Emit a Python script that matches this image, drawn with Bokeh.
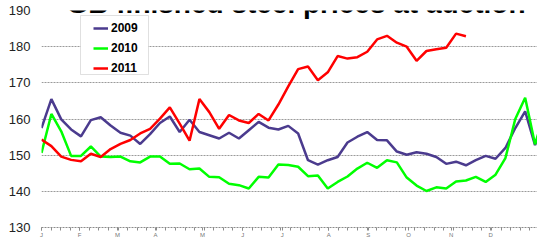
from bokeh.plotting import figure
from bokeh.models import Range1d, FixedTicker, Legend, LegendItem, Label, BoxAnnotation
from bokeh.embed import file_html
from bokeh.resources import INLINE

TITLE = "GB finished steel prices at auction"
SERIES_NAMES = ["2009", "2010", "2011"]
Y_TICKS = [130, 140, 150, 160, 170, 180, 190]
MONTHS = ["J", "F", "M", "A", "M", "J", "J", "A", "S", "O", "N", "D"]
MONTH_WEEK = [0, 3.85, 7.7, 11.55, 16.3, 20.4, 24.4, 29.1, 33.1, 37.2, 41.5, 45.5]

Y2009 = [157.5, 165.5, 159.9, 157.1, 155.2, 159.7, 160.5, 158.2, 156.2, 155.4,
         153.1, 155.8, 158.9, 160.7, 156.4, 159.8, 156.4, 155.5, 154.6, 156.2,
         154.6, 156.9, 159.2, 157.6, 157.1, 158.1, 156.0, 148.6, 147.4, 148.6,
         149.5, 153.5, 155.1, 156.4, 154.2, 154.1, 151.0, 150.1, 150.8, 150.4,
         149.5, 147.6, 148.2, 147.2, 148.6, 149.8, 149.0, 152.0, 157.5, 162.1,
         152.8, 160.0]
Y2010 = [150.6, 161.4, 156.6, 149.8, 149.8, 152.4, 149.6, 149.5, 149.6, 148.3,
         148.0, 149.6, 149.6, 147.6, 147.7, 146.1, 146.3, 144.0, 143.9, 142.1,
         141.7, 140.8, 144.0, 143.8, 147.4, 147.3, 146.8, 144.2, 144.4, 140.8,
         142.6, 144.1, 146.3, 147.9, 146.5, 148.6, 148.0, 143.8, 141.6, 140.1,
         141.1, 140.8, 142.7, 143.0, 144.0, 142.6, 144.6, 149.2, 160.0, 165.9,
         153.0, 162.0]
Y2011 = [154.3, 152.5, 149.6, 148.7, 148.3, 150.4, 149.5, 151.7, 153.1, 154.2,
         156.0, 157.3, 160.1, 163.2, 158.7, 154.0, 165.5, 161.9, 157.3, 161.1,
         159.6, 158.9, 161.4, 159.6, 164.0, 169.0, 173.8, 174.5, 170.7, 172.9,
         177.4, 176.7, 177.1, 178.6, 182.0, 183.0, 181.1, 180.0, 176.1, 178.8,
         179.3, 179.7, 183.6, 182.9]

WEEKS_09 = list(range(len(Y2009)))
WEEKS_10 = list(range(len(Y2010)))
WEEKS_11 = list(range(len(Y2011)))

PURPLE = "#4B3B8E"
GREEN = "#00FF00"
RED = "#FF0000"
GRID = "#9a9a9a"
FONT = "Liberation Sans"

p = figure(width=537, height=240, output_backend="svg", toolbar_location=None,
           x_range=Range1d(0, 50.25), y_range=Range1d(130, 190),
           min_border_left=41, min_border_right=0, min_border_top=10, min_border_bottom=8)
p.outline_line_color = None
p.background_fill_color = "white"
p.border_fill_color = "white"

# axes
p.yaxis.ticker = FixedTicker(ticks=Y_TICKS)
p.yaxis.axis_line_color = None
p.yaxis.major_tick_line_color = None
p.yaxis.minor_tick_line_color = None
p.yaxis.major_tick_out = 0
p.yaxis.major_tick_in = 0
p.yaxis.minor_tick_out = 0
p.yaxis.major_label_standoff = 11
p.yaxis.major_label_text_font = FONT
p.yaxis.major_label_text_font_size = "13px"
p.yaxis.major_label_text_color = "#222222"

minor = [i * 0.97 for i in range(0, 53)]
p.xaxis.ticker = FixedTicker(ticks=MONTH_WEEK, minor_ticks=minor)
p.xaxis.major_label_overrides = {w: m for w, m in zip(MONTH_WEEK, MONTHS)}
p.xaxis.axis_line_color = "#8c8c8c"
p.xaxis.axis_line_dash = "2 1"
p.xaxis.major_tick_line_color = "#8c8c8c"
p.xaxis.minor_tick_line_color = "#8c8c8c"
p.xaxis.major_tick_out = 3
p.xaxis.major_tick_in = 0
p.xaxis.minor_tick_out = 3
p.xaxis.minor_tick_in = 0
p.xaxis.major_label_standoff = 1
p.xaxis.major_label_text_font = FONT
p.xaxis.major_label_text_font_size = "6px"
p.xaxis.major_label_text_color = "#777777"

p.xgrid.grid_line_color = None
p.ygrid.grid_line_color = GRID
p.ygrid.grid_line_dash = "2 1"
p.ygrid.grid_line_width = 1

r09 = p.line(WEEKS_09, Y2009, line_color=PURPLE, line_width=2.5)
r10 = p.line(WEEKS_10, Y2010, line_color=GREEN, line_width=2.5)
r11 = p.line(WEEKS_11, Y2011, line_color=RED, line_width=2.5)

# legend frame
box = BoxAnnotation(left=39, right=107, top=212, bottom=153,
                    left_units="screen", right_units="screen",
                    top_units="screen", bottom_units="screen",
                    fill_color="white", fill_alpha=1.0,
                    line_color="#999999", line_width=1)
p.add_layout(box)

legend = Legend(items=[LegendItem(label=n, renderers=[r]) for n, r in zip(SERIES_NAMES, [r09, r10, r11])],
                location=(52, 152), orientation="vertical", padding=0, margin=0, spacing=6,
                glyph_width=15, glyph_height=14, label_height=14, label_standoff=3,
                label_text_font=FONT, label_text_font_style="bold", label_text_font_size="12px",
                label_text_color="black", border_line_color=None, background_fill_alpha=0)
p.add_layout(legend)

title = Label(x=254.5, y=224, x_units="screen", y_units="screen", text=TITLE,
              text_align="center", text_baseline="alphabetic",
              text_font=FONT, text_font_style="bold", text_font_size="28px", text_color="black")
p.add_layout(title)

open("out.html", "w").write(file_html(p, INLINE))
